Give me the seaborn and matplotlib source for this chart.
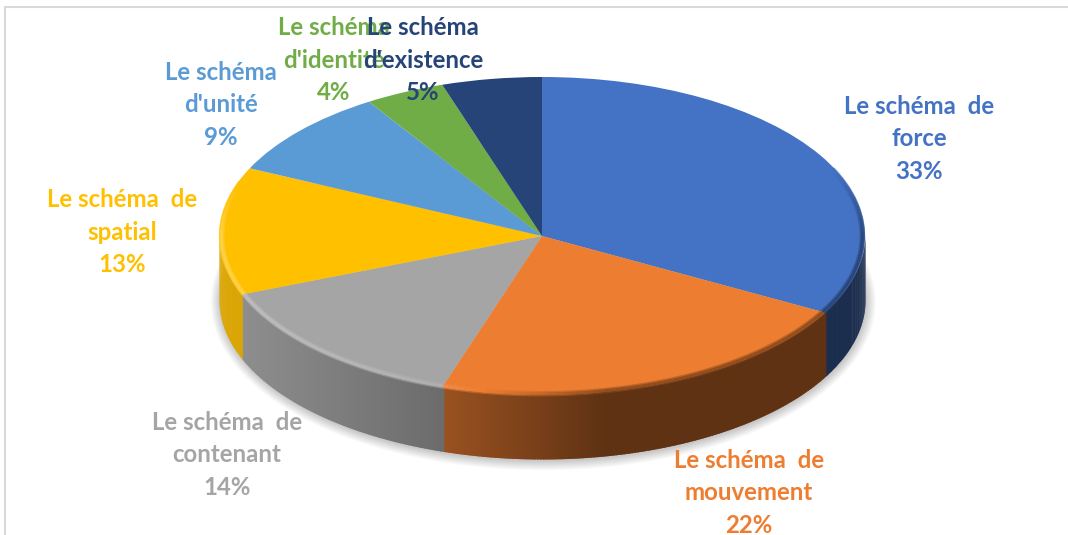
import numpy as np
import matplotlib
matplotlib.use("Agg")
import matplotlib.pyplot as plt
from matplotlib.lines import Line2D
from matplotlib.patches import Ellipse
import seaborn as sns

# ---- data ----
categories = ["Le schéma  de\nforce", "Le schéma  de\nmouvement", "Le schéma  de\ncontenant",
              "Le schéma  de\nspatial", "Le schéma\nd'unité", "Le schéma\nd'identité",
              "Le schéma\nd'existence"]
values = [33, 22, 14, 13, 9, 4, 5]
hex_colors = ["#4472C4", "#ED7D31", "#A5A5A5", "#FFC000", "#5B9BD5", "#70AD47", "#264478"]

# ---- layout (pixels of the 1068x535 image) ----
W, H = 1068, 535
CX, CY, RX, RY, DEPTH = 542, 236, 323, 159, 64
label_px = [(919, 139), (749, 493), (227, 455), (122, 232), (221, 105), (334, 60), (423, 60)]

sns.set_theme(style="white")
plt.rcParams["font.family"] = ["Lato", "DejaVu Sans"]
palette = sns.color_palette(hex_colors)

fig = plt.figure(figsize=(W / 100, H / 100), dpi=100, facecolor="white")
ax = fig.add_axes([0, 0, 1, 1])

# frame of the chart area: only its top and left edges are in view
frame_x, frame_y = 5.5 / W, 1 - 6.5 / H
fig.add_artist(Line2D([frame_x, frame_x, 1], [0, frame_y, frame_y], transform=fig.transFigure,
                      color="#D9D9D9", lw=1.5))

depth = DEPTH / RY

# soft shadow under the disc
for k in np.linspace(1, 0, 14):
    ax.add_patch(Ellipse((0.004, -depth - 0.012), 2 + 0.06 * k, 2 + 0.12 * k, fc="black",
                         alpha=0.014, lw=0, zorder=1))

# side wall, lit from the left
def shade(x):
    return np.interp(x, [-1, -0.9, -0.3, 0.2, 1], [0.87, 0.85, 0.65, 0.40, 0.40])

edges = 90 - np.cumsum([0] + values) * 3.6
for i, col in enumerate(palette):
    lo, hi = max(edges[i + 1], -180), min(edges[i], 0)
    if hi <= lo:
        continue
    steps = np.linspace(lo, hi, int(hi - lo) * 2 + 1)
    for t0, t1 in zip(steps[:-1], steps[1:]):
        th = np.radians(np.linspace(t0, t1 + 0.3, 4))
        x, y = np.cos(th), np.sin(th)
        c = np.array(col) * shade(x.mean())
        ax.fill_between(x, y - depth, y + 0.01, color=tuple(c), lw=0, zorder=2)

# top of the disc
wedges, _ = ax.pie(values, colors=palette, startangle=90, counterclock=False, radius=1,
                   wedgeprops={"linewidth": 0})
ax.set_aspect("auto")
for w in wedges:
    w.set_zorder(3)

# bevel on the rim
for i, col in enumerate(palette):
    lo, hi = max(edges[i + 1], -200), min(edges[i], 25)
    if hi <= lo:
        continue
    steps = np.linspace(lo, hi, int(hi - lo) + 1)
    for t0, t1 in zip(steps[:-1], steps[1:]):
        th = np.radians([t0, t1])
        x, y = np.cos(th), np.sin(th)
        fade = np.interp((t0 + t1) / 2, [-200, -180, 0, 25], [0, 1, 1, 0])
        f = np.interp(x.mean(), [-1, -0.3, 0.2, 1], [0.30, 0.12, -0.40, -0.40]) * fade
        base = np.array(col)
        c = base + (1 - base) * f if f > 0 else base * (1 + f)
        for r, a, lw in [(0.992, 0.5, 4.0), (0.992, 0.9, 2.0)]:
            ax.plot(x * r, y * r, color=tuple(c), lw=lw, alpha=a, solid_capstyle="butt", zorder=4)

ax.set_xlim(-CX / RX, (W - CX) / RX)
ax.set_ylim((CY - H) / RY, CY / RY)
ax.axis("off")

# labels
for (px, py), name, v, col in zip(label_px, categories, values, hex_colors):
    fig.text(px / W, 1 - py / H, f"{name}\n{v}%", color=col, ha="center", va="center",
             fontsize=17.3, fontweight="bold", linespacing=1.49, zorder=10)

fig.savefig("out.png", dpi=100)
